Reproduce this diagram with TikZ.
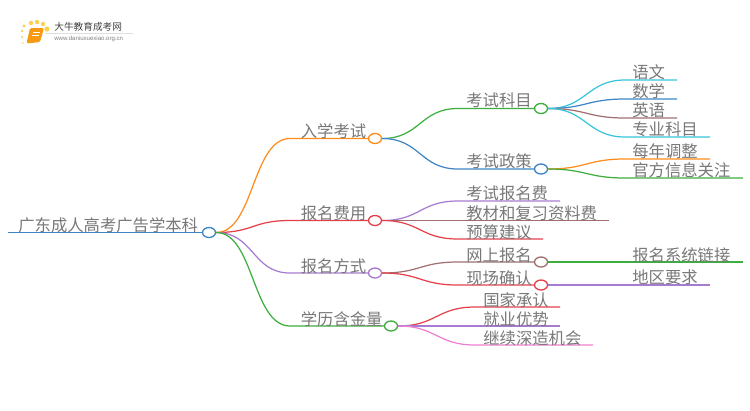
\documentclass[tikz,border=0pt]{standalone}
\usepackage{fontspec}
\setmainfont{Noto Sans CJK SC}
\newfontfamily\urlfont{Liberation Sans}
\usetikzlibrary{shapes.geometric}
\definecolor{mapblue}{HTML}{3D85C6}
\definecolor{maporange}{HTML}{FF8C1A}
\definecolor{mapred}{HTML}{E5404A}
\definecolor{mappurple}{HTML}{A67BD0}
\definecolor{mapgreen}{HTML}{3DAE3D}
\definecolor{mapcyan}{HTML}{35C4DC}
\definecolor{mapbrown}{HTML}{A07070}
\definecolor{mappink}{HTML}{EE7FD0}
\definecolor{maptext}{HTML}{787878}
\definecolor{logodot}{HTML}{FFD04D}
\definecolor{logobook}{HTML}{F59A12}
\newcommand{\bend}{.. controls +(38,0) and +(-38,0) ..}
\tikzset{
  topic/.style={anchor=west, inner sep=0pt, text=maptext, font=\fontsize{9.3pt}{10pt}\selectfont},
  hub/.style={ellipse, draw=#1, fill=white, line width=0.75pt, minimum width=0.26cm, minimum height=0.2cm, inner sep=0pt},
  link/.style={draw=#1, line width=0.7pt},
  logodotmark/.style={fill=logodot, draw=none}
}
\begin{document}
\begin{tikzpicture}[x=0.02cm,y=-0.02cm]
      \useasboundingbox (0,0) rectangle (750,410);
      % logo
      \foreach \dx/\dy/\dr in {24/26/1.7,31/23/2.2,37/22/2.2,43/24/2.2,47/29/2.6,22/31/1.4,22/37/1.1,23/43/0.9}
        \fill [logodotmark] (\dx,\dy) circle (\dr);
      \fill [logobook, rounded corners=0.03cm] (30,28) -- (44,28) -- (40,42) -- (26.5,43.5) -- cycle;
      \draw [white, line width=0.3pt] (33,32) -- (40,32) (32,35) -- (39,35);
      \draw [gray!25, line width=0.3pt] (45,33) -- (133,33);
      \node [anchor=west, inner sep=0pt, text=black!75, font=\fontsize{5.5pt}{6pt}\selectfont] (logoname) at (54,27) {大牛教育成考网};
      \node [anchor=west, inner sep=0pt, text=gray, font=\urlfont\fontsize{3.45pt}{4pt}\selectfont] (logourl) at (54,38.5) {www.daniuxuexiao.org.cn};
      % hubs
      \node [hub=mapblue] (root) at (209,232.5) {};
      \node [hub=maporange] (exam) at (375,138.5) {};
      \node [hub=mapred] (fee) at (375,220.5) {};
      \node [hub=mappurple] (apply) at (375,273) {};
      \node [hub=mapgreen] (worth) at (391,326) {};
      \node [hub=mapgreen] (subject) at (541,108.5) {};
      \node [hub=mapblue] (policy) at (541,169) {};
      \node [hub=mapbrown] (online) at (541,262) {};
      \node [hub=mapred] (onsite) at (541,285) {};
      % root
      \coordinate (rootstart) at (8,232.5);
      \coordinate (examflat) at (290,138.5);
      \coordinate (feeflat) at (290,220.5);
      \coordinate (applyflat) at (290,273);
      \coordinate (worthflat) at (290,326);
      \draw [link=mapblue, line width=1pt] (rootstart) -- (root.west);
      \draw [link=maporange] (root.east) .. controls +(38,0) and +(-38,0) .. (examflat) -- (exam.west);
      \draw [link=mapred] (root.east) .. controls +(38,0) and +(-38,0) .. (feeflat) -- (fee.west);
      \draw [link=mappurple] (root.east) .. controls +(38,0) and +(-38,0) .. (applyflat) -- (apply.west);
      \draw [link=mapgreen] (root.east) .. controls +(38,0) and +(-38,0) .. (worthflat) -- (worth.west);
      % second level
      \coordinate (subjectflat) at (458,108.5);
      \coordinate (policyflat) at (458,169);
      \coordinate (onlineflat) at (458,262);
      \coordinate (onsiteflat) at (458,285);
      \draw [link=mapgreen] (exam.east) \bend (subjectflat) -- (subject.west);
      \draw [link=mapblue] (exam.east) \bend (policyflat) -- (policy.west);
      \draw [link=mapbrown] (apply.east) \bend (onlineflat) -- (online.west);
      \draw [link=mapred] (apply.east) \bend (onsiteflat) -- (onsite.west);
      % fee leaves
      \coordinate (fee1a) at (458,201);   \coordinate (fee1b) at (560,201);
      \coordinate (fee2a) at (458,220.5); \coordinate (fee2b) at (609,220.5);
      \coordinate (fee3a) at (458,239);   \coordinate (fee3b) at (543,239);
      \draw [link=mappurple] (fee.east) \bend (fee1a) -- (fee1b);
      \draw [link=mapbrown] (fee.east) \bend (fee2a) -- (fee2b);
      \draw [link=mapred] (fee.east) \bend (fee3a) -- (fee3b);
      % subject leaves
      \coordinate (sub1a) at (625,80);  \coordinate (sub1b) at (677,80);
      \coordinate (sub2a) at (625,99);  \coordinate (sub2b) at (677,99);
      \coordinate (sub3a) at (625,118); \coordinate (sub3b) at (677,118);
      \coordinate (sub4a) at (625,137); \coordinate (sub4b) at (710,137);
      \draw [link=mapcyan] (subject.east) \bend (sub1a) -- (sub1b);
      \draw [link=mapblue] (subject.east) \bend (sub2a) -- (sub2b);
      \draw [link=mapbrown] (subject.east) \bend (sub3a) -- (sub3b);
      \draw [link=mapcyan] (subject.east) \bend (sub4a) -- (sub4b);
      % policy leaves
      \coordinate (pol1a) at (625,159); \coordinate (pol1b) at (710,159);
      \coordinate (pol2a) at (625,178); \coordinate (pol2b) at (743,178);
      \draw [link=maporange] (policy.east) \bend (pol1a) -- (pol1b);
      \draw [link=mapgreen] (policy.east) \bend (pol2a) -- (pol2b);
      % apply leaves
      \coordinate (onlineend) at (743,262);
      \coordinate (onsiteend) at (710,285);
      \draw [link=mapgreen] (online.east) -- (onlineend);
      \draw [link=mappurple] (onsite.east) -- (onsiteend);
      % worth leaves
      \coordinate (worth1a) at (475,307); \coordinate (worth1b) at (560,307);
      \coordinate (worth2b) at (560,326);
      \coordinate (worth3a) at (475,345); \coordinate (worth3b) at (593,345);
      \draw [link=mapred] (worth.east) \bend (worth1a) -- (worth1b);
      \draw [link=mappurple] (worth.east) -- (worth2b);
      \draw [link=mappink] (worth.east) \bend (worth3a) -- (worth3b);
      % labels
      \node [topic] (roottext) at (18,225.5) {广东成人高考广告学本科};
      \node [topic] (examtext) at (300.5,131) {入学考试};
      \node [topic] (feetext) at (300.5,213) {报名费用};
      \node [topic] (applytext) at (300.5,266) {报名方式};
      \node [topic] (worthtext) at (300.5,319) {学历含金量};
      \node [topic] (subjecttext) at (466,100.5) {考试科目};
      \node [topic] (policytext) at (466,161.5) {考试政策};
      \node [topic] (fee1text) at (466,193.5) {考试报名费};
      \node [topic] (fee2text) at (466,213) {教材和复习资料费};
      \node [topic] (fee3text) at (466,232) {预算建议};
      \node [topic] (onlinetext) at (466,255) {网上报名};
      \node [topic] (onsitetext) at (466,278) {现场确认};
      \node [topic] (sub1text) at (632,72.5) {语文};
      \node [topic] (sub2text) at (632,91.5) {数学};
      \node [topic] (sub3text) at (632,110.5) {英语};
      \node [topic] (sub4text) at (632,129.5) {专业科目};
      \node [topic] (pol1text) at (632,151.5) {每年调整};
      \node [topic] (pol2text) at (632,170.5) {官方信息关注};
      \node [topic] (linktext) at (632,255) {报名系统链接};
      \node [topic] (areatext) at (632,277.5) {地区要求};
      \node [topic] (worth1text) at (483,300) {国家承认};
      \node [topic] (worth2text) at (483,319) {就业优势};
      \node [topic] (worth3text) at (483,338) {继续深造机会};
\end{tikzpicture}
\end{document}
